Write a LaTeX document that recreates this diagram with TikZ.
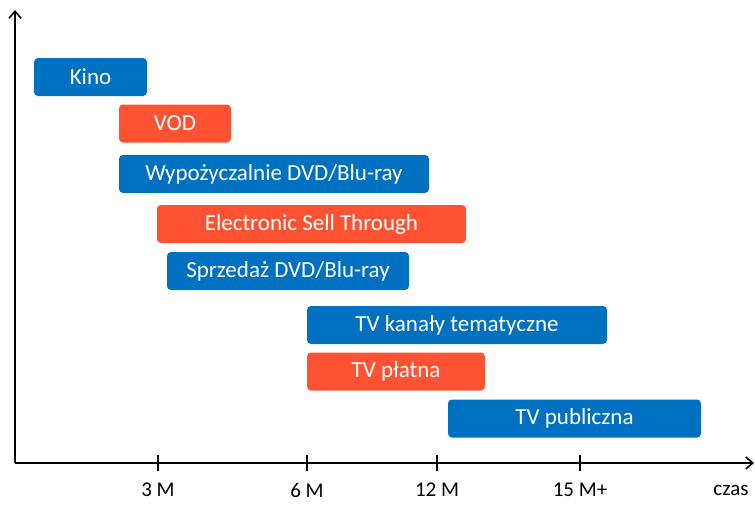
\documentclass[tikz,border=0pt]{standalone}
\usepackage{fontspec}
\setmainfont{Carlito}
\usetikzlibrary{arrows.meta, positioning}

\definecolor{barblue}{HTML}{0070C0}
\definecolor{barred}{HTML}{FF5233}

\begin{document}
\begin{tikzpicture}[
    x=1pt, y=-1pt,
    bar/.style={
        rectangle, rounded corners=4pt, text=white, inner sep=0pt,
        minimum height=38pt, font=\fontsize{23}{26}\selectfont
    },
    bluebar/.style={bar, fill=barblue},
    redbar/.style={bar, fill=barred},
    ticklabel/.style={font=\fontsize{21}{24}\selectfont, inner sep=0pt},
    axis/.style={line width=1.8pt, -{Straight Barb[length=7pt, width=12pt, line width=1.6pt]}},
    >=Stealth
]
\useasboundingbox (0,0) rectangle (755,504);

% axes
\coordinate (origin) at (15,463);
\coordinate (ytop) at (15,10);
\coordinate (xend) at (754,463);
\draw[axis] (origin) -- (ytop);
\draw[axis] (origin) -- (xend);

% ticks and labels
\foreach \tx/\lbl/\name in {158/3 M/t3, 307/6 M/t6, 437/12 M/t12, 580/15 M+/t15} {
    \coordinate (\name) at (\tx,463);
    \draw[line width=1.6pt] ([yshift=-8pt]\name) -- ([yshift=8pt]\name);
    \node[ticklabel] (\name lbl) at (\tx,490) {\lbl};
}
\node[ticklabel] (czas) at (731,490) {czas};

% bars
\node[bluebar, minimum width=113pt] (kino) at (90.5,77) {Kino};
\node[redbar, minimum width=112pt] (vod) at (175,123.5) {VOD};
\node[bluebar, minimum width=310pt] (wypo) at (274,174) {Wypożyczalnie DVD/Blu-ray};
\node[redbar, minimum width=309pt] (est) at (311.5,224) {Electronic Sell Through};
\node[bluebar, minimum width=242pt] (sprzedaz) at (288,271) {Sprzedaż DVD/Blu-ray};
\node[bluebar, minimum width=300pt] (tvtem) at (457,325) {TV kanały tematyczne};
\node[redbar, minimum width=178pt] (tvplatna) at (396,371.5) {TV płatna};
\node[bluebar, minimum width=253pt] (tvpub) at (574.5,418.5) {TV publiczna};

\end{tikzpicture}
\end{document}
